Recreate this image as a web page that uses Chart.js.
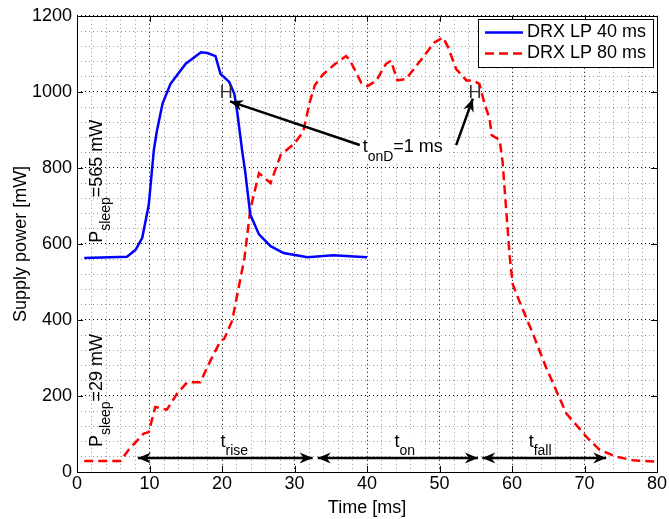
<!DOCTYPE html>
<html lang="en">
<head>
  <meta charset="UTF-8" />
  <title>Supply power vs time</title>
  <script src="https://cdn.jsdelivr.net/npm/chart.js"></script>
  <style>
    body { margin: 0; background: #fff; }
  </style>
</head>
<body>
  <canvas id="powerChart" width="669" height="519"></canvas>

  <script>
// === values ===
const seriesNames = ["DRX LP 40 ms", "DRX LP 80 ms"];

const timeLP40  = [1.0, 6.9, 8.1, 9.0, 9.9, 10.6, 11.0, 11.8, 12.9, 15.0, 17.1, 18.0, 19.1, 19.8, 21.0, 21.7, 22.1, 22.8, 23.2, 23.9, 25.1, 26.7, 28.5, 31.8, 35.3, 40.0];
const powerLP40 = [563, 566, 585, 616, 703, 847, 895, 969, 1021, 1074, 1104, 1102, 1094, 1047, 1026, 995, 947, 842, 790, 677, 625, 594, 576, 565, 570, 565];

const timeLP80  = [1.0, 6.0, 7.1, 9.2, 9.9, 10.8, 12.4, 13.8, 15.2, 17.0, 18.4, 19.8, 20.3, 21.4, 23.1, 23.9, 25.1, 26.7, 28.1, 30.0, 31.2, 32.1, 32.8, 33.9, 35.5, 37.1, 37.6, 39.2, 40.1, 41.3, 42.6, 43.3, 44.2, 45.4, 47.2, 49.3, 50.5, 51.1, 52.3, 53.7, 54.6, 55.5, 56.2, 56.9, 57.2, 58.3, 58.7, 59.7, 60.1, 61.0, 62.9, 64.7, 67.5, 70.3, 72.1, 74.4, 76.7, 80.0];
const powerLP80 = [29, 29, 58, 101, 105, 171, 164, 206, 236, 236, 293, 345, 350, 398, 563, 690, 786, 760, 834, 864, 895, 973, 1017, 1045, 1072, 1094, 1085, 1024, 1015, 1030, 1073, 1082, 1030, 1034, 1078, 1130, 1143, 1121, 1060, 1030, 1030, 1021, 969, 930, 886, 873, 816, 563, 494, 450, 363, 275, 154, 92, 58, 40, 31, 27];

const xTicks = [0, 10, 20, 30, 40, 50, 60, 70, 80];
const yTicks = [0, 200, 400, 600, 800, 1000, 1200];
const xMinorStep = 2;
const yMinorStep = 40;

// phases marked along the bottom
const phaseNames = ["rise", "on", "fall"];
const phaseStart = [8.4, 33.2, 55.9];
const phaseEnd   = [32.5, 55.3, 73.0];

const FONT = '"Liberation Sans", Arial, Helvetica, sans-serif';

// === small drawing helpers ===
function measureSub(ctx, main, sub, rest, size) {
  ctx.font = size + "px " + FONT;
  let w = ctx.measureText(main).width + ctx.measureText(rest).width;
  ctx.font = (size - 4) + "px " + FONT;
  return w + ctx.measureText(sub).width;
}

function drawSub(ctx, x, y, main, sub, rest, size, drop) {
  ctx.font = size + "px " + FONT;
  ctx.fillText(main, x, y);
  let w = ctx.measureText(main).width;
  ctx.font = (size - 4) + "px " + FONT;
  ctx.fillText(sub, x + w, y + drop);
  w += ctx.measureText(sub).width;
  ctx.font = size + "px " + FONT;
  ctx.fillText(rest, x + w, y);
}

function arrowHead(ctx, tx, ty, fx, fy) {
  const a = Math.atan2(ty - fy, tx - fx);
  ctx.save();
  ctx.translate(tx, ty);
  ctx.rotate(a);
  ctx.beginPath();
  ctx.moveTo(0, 0);
  ctx.lineTo(-13, -5.5);
  ctx.lineTo(-9, 0);
  ctx.lineTo(-13, 5.5);
  ctx.closePath();
  ctx.fill();
  ctx.restore();
}

function arrow(ctx, fx, fy, tx, ty, both) {
  ctx.beginPath();
  ctx.moveTo(fx, fy);
  ctx.lineTo(tx, ty);
  ctx.stroke();
  arrowHead(ctx, tx, ty, fx, fy);
  if (both) arrowHead(ctx, fx, fy, tx, ty);
}

// ticks every minor step; only the major ones get a label
function minorTicks(lo, hi, step) {
  const out = [];
  for (let v = lo; v <= hi + 1e-9; v += step) out.push({ value: v });
  return out;
}

const annotations = {
  id: "annotations",
  afterDatasetsDraw(chart) {
    const { ctx, chartArea: a, scales } = chart;
    const X = v => scales.x.getPixelForValue(v);
    const Y = v => scales.y.getPixelForValue(v);
    ctx.save();

    // axes box and inward ticks
    ctx.strokeStyle = "#000";
    ctx.lineWidth = 1;
    ctx.strokeRect(Math.round(a.left) + 0.5, Math.round(a.top) + 0.5, Math.round(a.right - a.left), Math.round(a.bottom - a.top));
    ctx.beginPath();
    xTicks.forEach(v => {
      const x = Math.round(X(v)) + 0.5;
      ctx.moveTo(x, a.bottom); ctx.lineTo(x, a.bottom - 6);
      ctx.moveTo(x, a.top); ctx.lineTo(x, a.top + 6);
    });
    yTicks.forEach(v => {
      const y = Math.round(Y(v)) + 0.5;
      ctx.moveTo(a.left, y); ctx.lineTo(a.left + 6, y);
      ctx.moveTo(a.right, y); ctx.lineTo(a.right - 6, y);
    });
    ctx.stroke();

    ctx.fillStyle = "#000";
    ctx.textBaseline = "alphabetic";
    ctx.textAlign = "left";

    // phase arrows along the bottom
    ctx.lineWidth = 2.5;
    const labelX = [19.8, 43.8, 62.3];
    phaseNames.forEach((name, i) => {
      const w = measureSub(ctx, "t", name, "", 18);
      ctx.fillStyle = "#fff";
      ctx.fillRect(X(labelX[i]) - 3, Y(65) - 15, w + 6, 25);
      ctx.fillStyle = "#000";
      drawSub(ctx, X(labelX[i]), Y(65), "t", name, "", 18, 8);
      arrow(ctx, X(phaseStart[i]), Y(37), X(phaseEnd[i]), Y(37), true);
    });

    // t_onD annotation
    const tw = measureSub(ctx, "t", "onD", "=1 ms", 18);
    ctx.fillStyle = "#fff";
    ctx.fillRect(X(39.4) - 3, Y(842) - 15, tw + 6, 27);
    ctx.fillStyle = "#000";
    drawSub(ctx, X(39.4), Y(842), "t", "onD", "=1 ms", 18, 9);
    ctx.lineWidth = 2.5;
    arrow(ctx, X(39.0), Y(860), X(21.1), Y(975), false);
    arrow(ctx, X(52.3), Y(860), X(54.6), Y(982), false);

    ctx.font = "18px " + FONT;
    ctx.textAlign = "center";
    ctx.textBaseline = "middle";
    ctx.fillStyle = "#333";
    ctx.fillText("H", X(20.6), Y(998));
    ctx.fillText("H", X(54.9), Y(998));

    // rotated sleep power labels
    ctx.fillStyle = "#000";
    ctx.textAlign = "left";
    ctx.textBaseline = "alphabetic";
    [[603, "=565 mW"], [66, "=29 mW"]].forEach(([v, rest]) => {
      ctx.save();
      ctx.translate(X(3.4), Y(v));
      ctx.rotate(-Math.PI / 2);
      drawSub(ctx, 0, 0, "P", "sleep", rest, 18, 8);
      ctx.restore();
    });
    ctx.restore();
  },
  afterDraw(chart) {
    // legend box in the top right corner
    const ctx = chart.ctx;
    const sets = chart.data.datasets;
    ctx.save();
    ctx.fillStyle = "#fff";
    ctx.fillRect(478.5, 19.5, 175, 48);
    ctx.strokeStyle = "#000";
    ctx.lineWidth = 1;
    ctx.strokeRect(478.5, 19.5, 175, 48);
    ctx.font = "18px " + FONT;
    ctx.textBaseline = "middle";
    sets.forEach((ds, i) => {
      const y = 32.5 + i * 21;
      ctx.strokeStyle = ds.borderColor;
      ctx.lineWidth = ds.borderWidth;
      ctx.setLineDash(ds.borderDash || []);
      ctx.beginPath(); ctx.moveTo(485, y); ctx.lineTo(523, y); ctx.stroke();
      ctx.fillStyle = "#000";
      ctx.fillText(ds.label, 527, y);
    });
    ctx.restore();
  }
};

const gridColor = majors => c => majors.includes(c.tick.value) ? "#000" : "#9a9a9a";

const ctx = document.getElementById("powerChart").getContext("2d");
new Chart(ctx, {
  type: "line",
  data: {
    datasets: [{
      label: seriesNames[0],
      data: timeLP40.map((t, i) => ({ x: t, y: powerLP40[i] })),
      borderColor: "#0000ff",
      borderWidth: 2.5,
      pointRadius: 0,
      tension: 0
    }, {
      label: seriesNames[1],
      data: timeLP80.map((t, i) => ({ x: t, y: powerLP80[i] })),
      borderColor: "#ff0000",
      borderWidth: 2.5,
      borderDash: [9, 5],
      pointRadius: 0,
      tension: 0
    }]
  },
  options: {
    responsive: false,
    animation: false,
    layout: { padding: { top: 13, right: 12, left: 0, bottom: 0 } },
    plugins: { legend: { display: false }, tooltip: { enabled: false } },
    scales: {
      x: {
        type: "linear",
        min: 0, max: 80,
        afterBuildTicks: s => { s.ticks = minorTicks(0, 80, xMinorStep); },
        afterFit: s => { s.height = 47; },
        grid: { color: gridColor(xTicks), lineWidth: 1, drawTicks: false },
        border: { display: false, dash: [1, 3] },
        ticks: { color: "#000", font: { family: FONT, size: 18 }, padding: 1, maxRotation: 0, autoSkip: false,
                 callback: v => xTicks.includes(v) ? String(v) : "" },
        title: { display: true, text: "Time [ms]", color: "#000", font: { family: FONT, size: 18 }, padding: { top: 0, bottom: 0 } }
      },
      y: {
        min: 0, max: 1200,
        afterBuildTicks: s => { s.ticks = minorTicks(0, 1200, yMinorStep); },
        afterFit: s => { s.width = 77; },
        grid: { color: gridColor(yTicks), lineWidth: 1, drawTicks: false },
        border: { display: false, dash: [1, 3] },
        ticks: { color: "#000", font: { family: FONT, size: 18 }, padding: 5, autoSkip: false,
                 callback: v => yTicks.includes(v) ? String(v) : "" },
        title: { display: true, text: "Supply power [mW]", color: "#000", font: { family: FONT, size: 18 }, padding: { top: 10, bottom: 0 } }
      }
    }
  },
  plugins: [annotations]
});
  </script>
</body>
</html>
